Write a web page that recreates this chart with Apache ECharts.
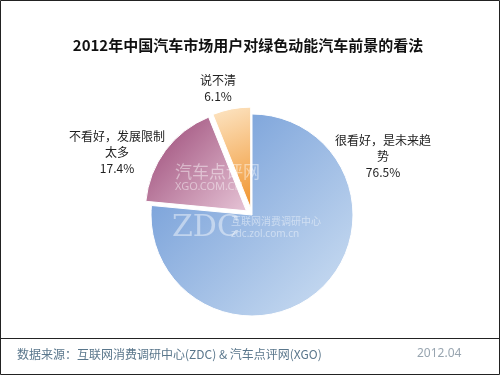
<!DOCTYPE html>
<html><head><meta charset="utf-8">
<script src="https://cdn.jsdelivr.net/npm/echarts@6/dist/echarts.min.js"></script>
<style>html,body{margin:0;padding:0;background:#fff}#c{width:500px;height:375px}</style>
</head><body><div id="c"></div>
<script>
var titleText = '2012年中国汽车市场用户对绿色动能汽车前景的看法';
var categories = ['很看好，是未来趋势', '不看好，发展限制太多', '说不清'];
var values = [76.5, 17.4, 6.1];
var exploded = [false, true, true];
var sourceText = '数据来源：互联网消费调研中心(ZDC) & 汽车点评网(XGO)';
var dateText = '2012.04';

var gradients = [
  ['#6794d4', '#cfe0f3'],
  ['#984473', '#e6c4d6'],
  ['#fde6c6', '#f0922a']
];
var labelPos = [[383, 156], [117, 152], [218, 88]];
var maxLineChars = 8;

function grad(c) {
  return new echarts.graphic.LinearGradient(0, 0, 1, 1, [
    {offset: 0, color: c[0]}, {offset: 1, color: c[1]}
  ]);
}
function lines(s) {
  var out = [];
  for (var i = 0; i < s.length; i += maxLineChars) out.push(s.slice(i, i + maxLineChars));
  return out;
}
var chart = echarts.init(document.getElementById('c'));
var data = categories.map(function (n, i) {
  return {name: n, value: values[i], selected: exploded[i], itemStyle: {color: grad(gradients[i])}};
});
var labelGraphics = categories.map(function (n, i) {
  return {
    type: 'text', x: labelPos[i][0], y: labelPos[i][1], z: 50,
    style: {
      text: lines(n).concat([values[i].toFixed(1) + '%']).join('\n'),
      align: 'center', verticalAlign: 'middle', fill: '#222',
      fontSize: 12, lineHeight: 16, fontFamily: 'Noto Sans CJK SC'
    }
  };
});
chart.setOption({
  animation: false,
  title: {text: titleText, left: 243, top: 33, textAlign: 'center',
    textStyle: {fontSize: 15, fontWeight: 'bold', color: '#111', fontFamily: 'Noto Sans CJK SC'}},
  series: [{
    type: 'pie',
    center: [252, 215],
    radius: [0, 101],
    startAngle: 90,
    clockwise: true,
    selectedMode: 'multiple',
    selectedOffset: 7,
    emphasis: {disabled: true},
    itemStyle: {borderColor: '#fff', borderWidth: 1},
    label: {show: false},
    labelLine: {show: false},
    data: data
  }],
  graphic: labelGraphics.concat([
    {type: 'rect', shape: {x: 0.5, y: 0.5, width: 499, height: 374}, style: {fill: 'none', stroke: '#222', lineWidth: 1}, z: 100},
    {type: 'line', shape: {x1: 0, y1: 338.5, x2: 500, y2: 338.5}, style: {stroke: '#222', lineWidth: 1}, z: 100},
    {type: 'text', left: 17, top: 348, style: {text: sourceText, fill: '#5a778c', fontSize: 12, fontFamily: 'Noto Sans CJK SC'}, z: 100},
    {type: 'text', left: 417, top: 348, style: {text: dateText, fill: '#98a5b0', fontSize: 12, fontFamily: 'Noto Sans'}, z: 100},
    {type: 'text', left: 175, top: 163, style: {text: '汽车点评网', fill: 'rgba(255,255,255,0.45)', fontSize: 17, fontFamily: 'Noto Sans CJK SC'}, z: 100},
    {type: 'text', left: 175, top: 181, style: {text: 'XGO.COM.CN', fill: 'rgba(255,255,255,0.45)', fontSize: 11, fontFamily: 'Noto Sans'}, z: 100},
    {type: 'text', left: 172, top: 213, style: {text: 'ZDC', fill: 'rgba(255,255,255,0.45)', fontSize: 30, fontFamily: 'DejaVu Serif'}, z: 100},
    {type: 'text', left: 231, top: 216, style: {text: '互联网消费调研中心', fill: 'rgba(255,255,255,0.45)', fontSize: 10, fontFamily: 'Noto Sans CJK SC'}, z: 100},
    {type: 'text', left: 231, top: 229, style: {text: 'zdc.zol.com.cn', fill: 'rgba(255,255,255,0.45)', fontSize: 10, fontFamily: 'Noto Sans'}, z: 100}
  ])
});
</script></body></html>
